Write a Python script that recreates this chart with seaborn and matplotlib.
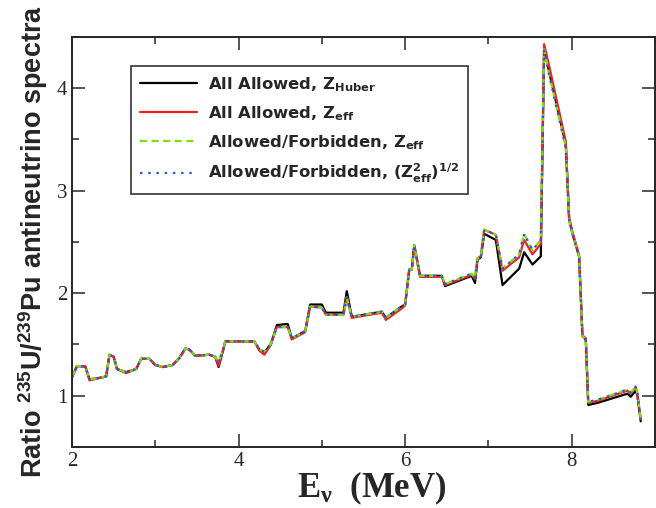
import numpy as np
import pandas as pd
import matplotlib
matplotlib.use("Agg")
import matplotlib.pyplot as plt
import seaborn as sns
from matplotlib.ticker import MultipleLocator

# ---------------------------------- DATA ---------------------------------- #
energy = [2.00, 2.06, 2.16, 2.21, 2.37, 2.41, 2.45, 2.50, 2.54, 2.65,
          2.77, 2.83, 2.93, 3.00, 3.09, 3.21, 3.29, 3.36, 3.41, 3.48,
          3.65, 3.72, 3.76, 3.82, 3.84, 4.19, 4.25, 4.31, 4.39, 4.46,
          4.59, 4.64, 4.80, 4.86, 5.00, 5.05, 5.26, 5.30, 5.36, 5.72,
          5.77, 5.94, 6.00, 6.05, 6.08, 6.11, 6.18, 6.44, 6.48, 6.80,
          6.84, 6.87, 6.91, 6.95, 7.09, 7.17, 7.37, 7.43, 7.53, 7.63,
          7.67, 7.73, 7.93, 7.97, 8.01, 8.09, 8.13, 8.17, 8.20, 8.31,
          8.67, 8.71, 8.77, 8.79, 8.83]

allowed_huber = [1.18, 1.29, 1.285, 1.16, 1.18, 1.19, 1.40, 1.38, 1.26, 1.23,
                 1.26, 1.36, 1.36, 1.30, 1.28, 1.30, 1.37, 1.46, 1.45, 1.39,
                 1.40, 1.38, 1.28, 1.46, 1.53, 1.53, 1.45, 1.42, 1.51, 1.69,
                 1.70, 1.56, 1.63, 1.89, 1.89, 1.81, 1.81, 2.02, 1.77, 1.82,
                 1.76, 1.86, 1.89, 2.23, 2.23, 2.47, 2.17, 2.17, 2.07, 2.17,
                 2.10, 2.33, 2.35, 2.58, 2.52, 2.08, 2.24, 2.40, 2.28, 2.36,
                 4.40, 4.16, 3.45, 2.72, 2.58, 2.36, 1.58, 1.55, 0.91, 0.93,
                 1.02, 0.99, 1.05, 1.00, 0.75]

allowed_eff = [1.18, 1.29, 1.285, 1.15, 1.18, 1.19, 1.40, 1.38, 1.26, 1.22,
               1.26, 1.36, 1.36, 1.30, 1.28, 1.30, 1.37, 1.46, 1.45, 1.39,
               1.40, 1.38, 1.29, 1.46, 1.53, 1.53, 1.44, 1.40, 1.50, 1.67,
               1.67, 1.55, 1.62, 1.87, 1.86, 1.79, 1.79, 1.96, 1.76, 1.81,
               1.74, 1.84, 1.88, 2.23, 2.23, 2.46, 2.16, 2.16, 2.08, 2.18,
               2.14, 2.34, 2.36, 2.62, 2.57, 2.22, 2.35, 2.52, 2.38, 2.48,
               4.43, 4.22, 3.48, 2.74, 2.60, 2.37, 1.59, 1.56, 0.93, 0.95,
               1.05, 1.02, 1.08, 1.02, 0.77]

forbidden_eff = [1.18, 1.29, 1.285, 1.16, 1.18, 1.19, 1.40, 1.38, 1.26, 1.23,
                 1.26, 1.36, 1.36, 1.30, 1.28, 1.30, 1.37, 1.46, 1.45, 1.39,
                 1.40, 1.38, 1.33, 1.46, 1.53, 1.53, 1.45, 1.43, 1.51, 1.67,
                 1.67, 1.56, 1.63, 1.87, 1.86, 1.79, 1.79, 1.96, 1.77, 1.82,
                 1.76, 1.86, 1.89, 2.23, 2.23, 2.47, 2.17, 2.17, 2.09, 2.19,
                 2.15, 2.34, 2.36, 2.62, 2.57, 2.24, 2.38, 2.58, 2.42, 2.52,
                 4.38, 4.14, 3.43, 2.71, 2.58, 2.36, 1.58, 1.55, 0.94, 0.96,
                 1.06, 1.03, 1.09, 1.03, 0.77]

forbidden_eff2 = [1.18, 1.29, 1.285, 1.16, 1.18, 1.19, 1.40, 1.38, 1.26, 1.23,
                  1.26, 1.36, 1.36, 1.30, 1.28, 1.30, 1.37, 1.46, 1.45, 1.39,
                  1.40, 1.38, 1.33, 1.46, 1.53, 1.53, 1.45, 1.43, 1.51, 1.67,
                  1.67, 1.56, 1.63, 1.87, 1.86, 1.79, 1.79, 1.96, 1.77, 1.82,
                  1.76, 1.86, 1.89, 2.23, 2.23, 2.47, 2.17, 2.17, 2.09, 2.19,
                  2.15, 2.34, 2.36, 2.62, 2.57, 2.24, 2.38, 2.58, 2.42, 2.52,
                  4.37, 4.13, 3.42, 2.71, 2.58, 2.36, 1.58, 1.55, 0.94, 0.96,
                  1.06, 1.03, 1.09, 1.03, 0.77]

labels = [r'All Allowed, $\mathdefault{Z_{Huber}}$',
          r'All Allowed, $\mathdefault{Z_{eff}}$',
          r'Allowed/Forbidden, $\mathdefault{Z_{eff}}$',
          r'Allowed/Forbidden, $\mathdefault{(Z^{2}_{eff})^{1/2}}$']

# ---------------------------------- PLOT ---------------------------------- #
sns.set_style("ticks")
plt.rcParams['font.family'] = ['Liberation Serif', 'DejaVu Serif']

fig = plt.figure(figsize=(6.56, 5.08), dpi=100)
ax = fig.add_axes([0.1098, 0.1201, 0.8885, 0.8071])

series = [allowed_huber, allowed_eff, forbidden_eff, forbidden_eff2]
colors = ['black', '#ee2020', '#7ee000', '#2255ff']
dashes = [None, None, (3.2, 2.0), (1.1, 2.6)]

for vals, lab, col, dsh in zip(series, labels, colors, dashes):
    df = pd.DataFrame({'E': energy, 'ratio': vals})
    sns.lineplot(data=df, x='E', y='ratio', color=col, lw=1.6, label=lab, ax=ax)
    if dsh is not None:
        ax.lines[-1].set_dashes(dsh)

ax.set_xlim(2, 9)
ax.set_ylim(0.5, 4.5)
ax.xaxis.set_major_locator(MultipleLocator(2))
ax.xaxis.set_minor_locator(MultipleLocator(1))
ax.yaxis.set_major_locator(MultipleLocator(1))
ax.yaxis.set_minor_locator(MultipleLocator(0.5))
ax.tick_params(which='both', direction='in', top=True, right=True, width=1.1, labelsize=15)
ax.tick_params(which='major', length=9.5)
ax.tick_params(which='minor', length=5)
for s in ax.spines.values():
    s.set_linewidth(1.4)

ax.set_xlabel(r'$\mathdefault{E_{\nu}}$  (MeV)', fontsize=25, fontweight='bold',
              family='Liberation Serif')
ax.xaxis.set_label_coords(0.515, -0.055)
ax.set_ylabel(r'Ratio $\mathdefault{^{235}}$U/$\mathdefault{^{239}}$Pu antineutrino spectra',
              fontsize=19.5, fontweight='bold', family='Liberation Sans')
ax.yaxis.set_label_coords(-0.038, 0.5)

leg = ax.legend(loc='upper left', bbox_to_anchor=(0.101, 0.929), borderaxespad=0,
                handlelength=3.5, prop={'family': 'DejaVu Sans', 'weight': 'bold', 'size': 11.8},
                frameon=True, fancybox=False, edgecolor='black', borderpad=0.55,
                labelspacing=0.62, handletextpad=0.63)
leg.get_frame().set_linewidth(1.2)

fig.savefig('out.png', dpi=100)
